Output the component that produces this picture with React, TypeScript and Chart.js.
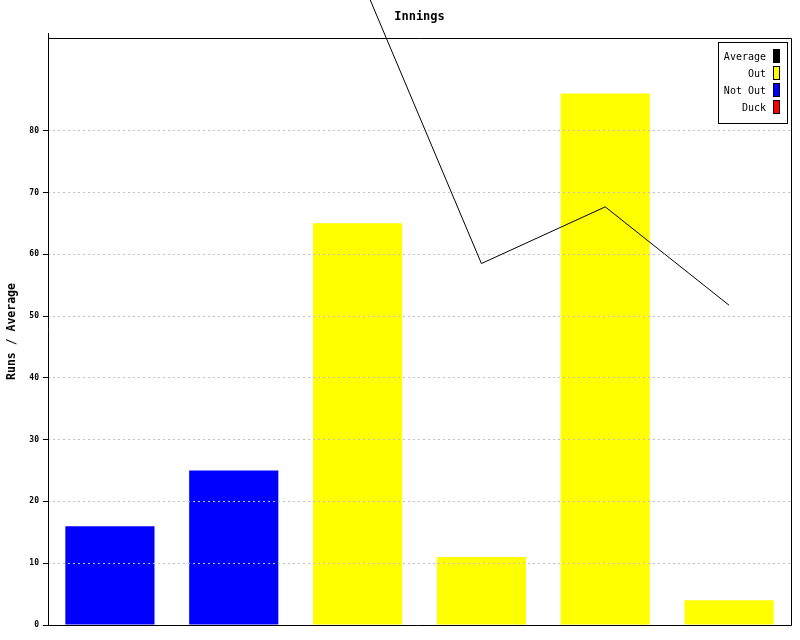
import React, { useEffect, useRef } from "react";
import { Chart, registerables } from "chart.js";

Chart.register(...registerables);

const titleText = "Innings";
const yAxisTitle = "Runs / Average";
const categories = ["1", "2", "3", "4", "5", "6"];
const runs = [16, 25, 65, 11, 86, 4];
const status = ["Not Out", "Not Out", "Out", "Out", "Out", "Out"];
const average: (number | null)[] = [null, null, 106, 58.5, 67.67, 51.75];
const yTicks = [0, 10, 20, 30, 40, 50, 60, 70, 80];
const yMax = 95;
const legendLabels = ["Average", "Out", "Not Out", "Duck"];
const legendColors = ["#000000", "#ffff00", "#0000ff", "#ff0000"];

const MONO = "'DejaVu Sans Mono', monospace";

function colorFor(s: string) {
  const i = legendLabels.indexOf(s);
  return legendColors[i];
}

const decorPlugin = {
  id: "decor",
  afterDraw(chart: any) {
    const ctx = chart.ctx as CanvasRenderingContext2D;
    const a = chart.chartArea;
    ctx.save();
    // frame
    ctx.strokeStyle = "#000";
    ctx.lineWidth = 1;
    ctx.setLineDash([]);
    ctx.beginPath();
    ctx.moveTo(a.left + 0.5, a.top - 5);
    ctx.lineTo(a.left + 0.5, a.bottom + 0.5);
    ctx.moveTo(a.left, a.top + 0.5);
    ctx.lineTo(a.right + 0.5, a.top + 0.5);
    ctx.lineTo(a.right + 0.5, a.bottom + 0.5);
    ctx.lineTo(a.left - 5, a.bottom + 0.5);
    ctx.stroke();
    // title
    ctx.fillStyle = "#000";
    ctx.font = "bold 12px " + MONO;
    ctx.textAlign = "center";
    ctx.textBaseline = "middle";
    ctx.fillText(titleText, (a.left + a.right) / 2, 17);
    // legend
    const bx = 718, by = 42, bw = 69, bh = 81;
    ctx.fillStyle = "#fff";
    ctx.fillRect(bx, by, bw, bh);
    ctx.strokeStyle = "#000";
    ctx.strokeRect(bx + 0.5, by + 0.5, bw, bh);
    ctx.font = "10px " + MONO;
    ctx.textAlign = "right";
    ctx.textBaseline = "middle";
    legendLabels.forEach((lab, i) => {
      const cy = 56 + i * 17;
      ctx.fillStyle = "#000";
      ctx.fillText(lab, 766, cy + 1);
      ctx.fillStyle = legendColors[i];
      ctx.fillRect(773, cy - 7, 7, 14);
      ctx.strokeStyle = "#000";
      ctx.strokeRect(773.5, cy - 6.5, 6, 13);
    });
    ctx.restore();
  },
};

export default function App() {
  const ref = useRef<HTMLCanvasElement>(null);
  useEffect(() => {
    if (!ref.current) return;
    const chart = new Chart(ref.current, {
      type: "bar",
      data: {
        labels: categories,
        datasets: [
          {
            type: "line",
            label: "Average",
            data: average,
            borderColor: "#000",
            borderWidth: 1,
            pointRadius: 0,
            fill: false,
            spanGaps: false,
            tension: 0,
            clip: false as any,
            order: 0,
          } as any,
          {
            type: "bar",
            label: "Runs",
            data: runs,
            backgroundColor: status.map(colorFor),
            borderWidth: 0,
            categoryPercentage: 0.72,
            barPercentage: 1,
            order: 1,
          } as any,
        ],
      },
      options: {
        animation: false,
        responsive: false,
        devicePixelRatio: 1,
        layout: { padding: { top: 38, right: 9, bottom: 15, left: 0 } },
        plugins: {
          legend: { display: false },
          title: { display: false },
          tooltip: { enabled: false },
        },
        scales: {
          x: {
            display: true,
            grid: { display: false },
            border: { display: false },
            ticks: { display: false },
            afterFit: (s: any) => {
              s.height = 0;
            },
          },
          y: {
            min: 0,
            max: yMax,
            afterBuildTicks: (s: any) => {
              s.ticks = yTicks.map((v) => ({ value: v }));
            },
            afterFit: (s: any) => {
              s.width = 48;
            },
            border: { display: false, dash: [2, 3] },
            grid: {
              z: 1,
              color: (c: any) =>
                c.tick && c.tick.value === 0 ? "rgba(0,0,0,0)" : "#c0c0c0",
              tickColor: "#000",
              tickLength: 5,
              tickBorderDash: [],
              lineWidth: 1,
            },
            ticks: {
              color: "#000",
              padding: 4,
              font: { family: MONO, size: 8, weight: "bold" },
            },
            title: {
              display: true,
              text: yAxisTitle,
              color: "#000",
              font: { family: MONO, size: 11.5, weight: "bold" },
              padding: { top: 5, bottom: 4 },
            },
          },
        },
      },
      plugins: [decorPlugin],
    } as any);
    return () => chart.destroy();
  }, []);
  return (
    <div style={{ position: "absolute", left: 0, top: 0, width: 800, height: 640, background: "#fff" }}>
      <canvas ref={ref} width={800} height={640} />
    </div>
  );
}
